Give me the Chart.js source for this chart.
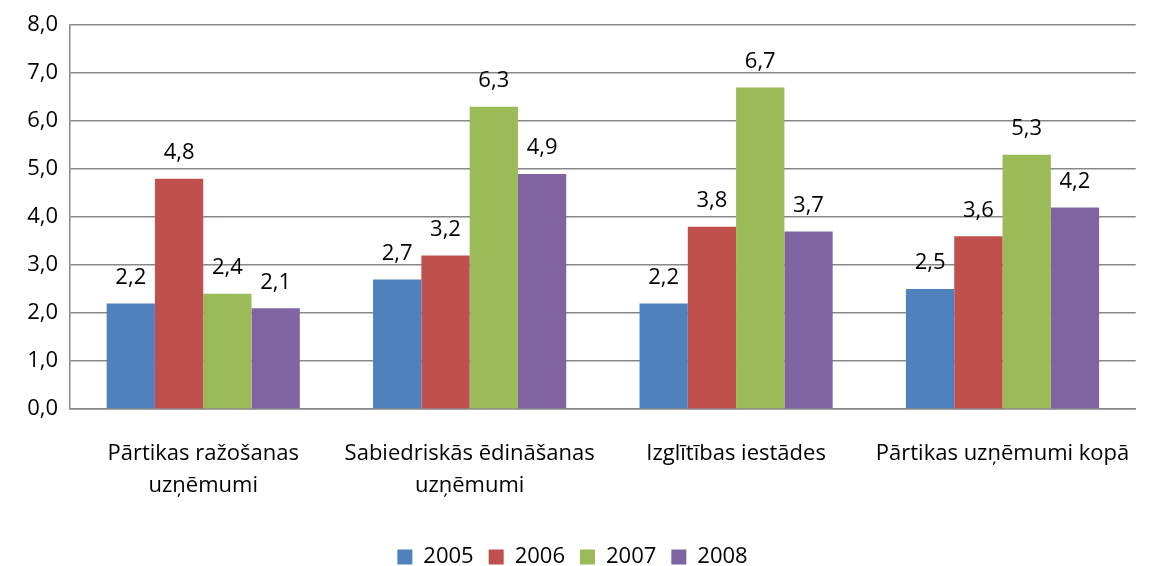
<!DOCTYPE html>
<html>
<head>
<meta charset="utf-8">
<script src="https://cdn.jsdelivr.net/npm/chart.js@4"></script>
<style>
  html, body { margin: 0; padding: 0; background: #fff; }
  #wrap { width: 1151px; height: 566px; }
</style>
</head>
<body>
<div id="wrap"><canvas id="chart"></canvas></div>
<script>
// Kategorijas un dati (nolasīti no attēla)
const categories = [
    ['Pārtikas ražošanas', 'uzņēmumi'],
    ['Sabiedriskās ēdināšanas', 'uzņēmumi'],
    'Izglītības iestādes',
    'Pārtikas uzņēmumi kopā'
];
const years = ['2005', '2006', '2007', '2008'];
const values2005 = [2.2, 2.7, 2.2, 2.5];
const values2006 = [4.8, 3.2, 3.8, 3.6];
const values2007 = [2.4, 6.3, 6.7, 5.3];
const values2008 = [2.1, 4.9, 3.7, 4.2];
const colors = ['#4F81BD', '#C0504D', '#9BBB59', '#8064A2'];

const FONT = '"Open Sans", "Noto Sans", sans-serif';
const SIZE = 22;
const fmt = v => v.toFixed(1).replace('.', ',');

// vienkāršs datu etiķešu spraudnis
const valueLabels = {
    id: 'valueLabels',
    afterDatasetsDraw(chart) {
        const ctx = chart.ctx;
        ctx.save();
        ctx.font = SIZE + 'px ' + FONT;
        ctx.fillStyle = '#000';
        ctx.textAlign = 'center';
        ctx.textBaseline = 'middle';
        chart.data.datasets.forEach((ds, i) => {
            chart.getDatasetMeta(i).data.forEach((bar, j) => {
                ctx.fillText(fmt(ds.data[j]), bar.x, bar.y - 26);
            });
        });
        ctx.restore();
    }
};

const seriesValues = [values2005, values2006, values2007, values2008];

new Chart(document.getElementById('chart'), {
    type: 'bar',
    data: {
        labels: categories,
        datasets: years.map((y, i) => ({
            label: y,
            data: seriesValues[i],
            backgroundColor: colors[i],
            categoryPercentage: 0.725,
            barPercentage: 1.0
        }))
    },
    options: {
        responsive: true,
        maintainAspectRatio: false,
        animation: false,
        layout: { padding: { top: 10, right: 6, bottom: -12, left: 0 } },
        plugins: {
            legend: {
                position: 'bottom',
                labels: {
                    font: { family: FONT, size: SIZE },
                    color: '#000',
                    boxWidth: 15,
                    boxHeight: 15,
                    padding: 15
                }
            },
            tooltip: { enabled: false }
        },
        scales: {
            x: {
                grid: { display: false },
                border: { color: '#888', width: 1.5 },
                ticks: {
                    font: { family: FONT, size: SIZE, lineHeight: 1.45 },
                    color: '#000',
                    padding: 21,
                    maxRotation: 0,
                    autoSkip: false
                },
                afterFit: s => { s.height = 122; }
            },
            y: {
                min: 0,
                max: 8,
                ticks: {
                    stepSize: 1,
                    font: { family: FONT, size: SIZE },
                    color: '#000',
                    padding: 12,
                    callback: v => fmt(v)
                },
                grid: { color: '#888', lineWidth: 1.5, drawTicks: false },
                border: { color: '#888', width: 1.5 },
                afterFit: s => { s.width = 70; }
            }
        }
    },
    plugins: [valueLabels]
});
</script>
</body>
</html>
